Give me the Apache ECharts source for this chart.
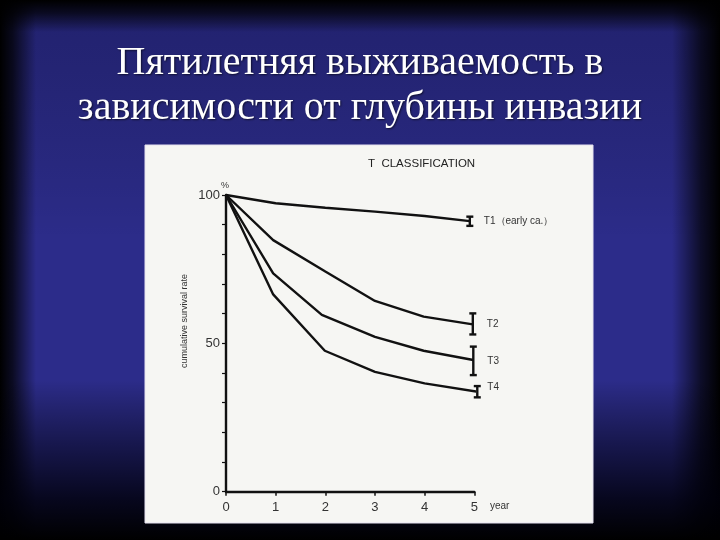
<!DOCTYPE html>
<html>
<head>
<meta charset="utf-8">
<script src="https://cdn.jsdelivr.net/npm/echarts@6/dist/echarts.min.js"></script>
<style>html,body{margin:0;padding:0;background:#000;}#c{width:720px;height:540px;}</style>
</head>
<body>
<div id="c"></div>
<script>
// ---- data ----
const titleLines = ['Пятилетняя выживаемость в', 'зависимости от глубины инвазии'];
const chartHeading = 'T  CLASSIFICATION';
const yAxisName = 'cumulative survival rate';
const xAxisName = 'year';
const yUnit = '%';
const yTickLabels = [0, 50, 100];
const xTickLabels = [0, 1, 2, 3, 4, 5];

const seriesNames = ['T1（early ca.）', 'T2', 'T3', 'T4'];
const t1X = [0, 1, 2, 3, 4, 4.91];
const t1Y = [100, 97.2, 95.7, 94.4, 92.9, 91.2];
const t2X = [0, 0.95, 2, 3, 3.98, 4.97];
const t2Y = [100, 84.8, 74.2, 64.3, 59.0, 56.4];
const t3X = [0, 0.95, 1.93, 3, 3.98, 4.98];
const t3Y = [100, 73.6, 59.6, 52.2, 47.5, 44.4];
const t4X = [0, 0.95, 1.99, 3, 4, 5.06];
const t4Y = [100, 66.5, 47.5, 40.4, 36.5, 33.7];
// error bars at 5 years: [x, low, high]
const errT1 = [4.91, 89.6, 92.7];
const errT2 = [4.97, 53.0, 60.1];
const errT3 = [4.98, 39.3, 48.9];
const errT4 = [5.06, 31.8, 35.6];

// ---- build ----
const xs = [t1X, t2X, t3X, t4X];
const ys = [t1Y, t2Y, t3Y, t4Y];
const errs = [errT1, errT2, errT3, errT4];
const labelOffsets = [[14, 0], [14, 0], [14, 0], [10, -4]];

const ink = '#111';
const sans = '"Liberation Sans", Arial, sans-serif';

const lineSeries = xs.map((xArr, i) => ({
  type: 'line',
  name: seriesNames[i],
  data: xArr.map((x, j) => [x, ys[i][j]]),
  symbol: 'none',
  clip: false,
  lineStyle: { color: ink, width: 2.4 },
  z: 3
}));

const errSeries = {
  type: 'custom',
  clip: false,
  z: 4,
  data: errs.map((e, i) => [e[0], e[1], e[2], i]),
  renderItem: function (params, api) {
    const x = api.value(0), lo = api.value(1), hi = api.value(2), idx = api.value(3);
    const pLo = api.coord([x, lo]);
    const pHi = api.coord([x, hi]);
    const mid = api.coord([x, (lo + hi) / 2]);
    const w = 3.5;
    const st = { stroke: ink, lineWidth: 2.4 };
    const off = labelOffsets[idx];
    return {
      type: 'group',
      children: [
        { type: 'line', shape: { x1: pLo[0], y1: pLo[1], x2: pHi[0], y2: pHi[1] }, style: st },
        { type: 'line', shape: { x1: pLo[0] - w, y1: pLo[1], x2: pLo[0] + w, y2: pLo[1] }, style: st },
        { type: 'line', shape: { x1: pHi[0] - w, y1: pHi[1], x2: pHi[0] + w, y2: pHi[1] }, style: st },
        { type: 'text', x: mid[0] + off[0], y: mid[1] + off[1],
          style: { text: seriesNames[idx], fill: '#333', font: '10px ' + sans, textVerticalAlign: 'middle', textAlign: 'left' } }
      ]
    };
  }
};

const bg = [
  { type: 'rect', z: -30, shape: { x: 0, y: 0, width: 720, height: 540 }, style: { fill: '#2c2c8a' } },
  { type: 'rect', z: -29, shape: { x: 0, y: 0, width: 720, height: 540 },
    style: { fill: { type: 'linear', x: 0, y: 0, x2: 0, y2: 1, colorStops: [
      { offset: 0, color: 'rgba(10,10,50,0.3)' }, { offset: 0.45, color: 'rgba(0,0,0,0)' }, { offset: 1, color: 'rgba(0,0,0,0)' }] } } },
  { type: 'rect', z: -28, shape: { x: 0, y: 0, width: 36, height: 540 },
    style: { fill: { type: 'linear', x: 0, y: 0, x2: 1, y2: 0, colorStops: [
      { offset: 0, color: 'rgba(0,0,0,1)' }, { offset: 0.35, color: 'rgba(0,0,0,0.75)' }, { offset: 1, color: 'rgba(0,0,0,0)' }] } } },
  { type: 'rect', z: -28, shape: { x: 672, y: 0, width: 48, height: 540 },
    style: { fill: { type: 'linear', x: 0, y: 0, x2: 1, y2: 0, colorStops: [
      { offset: 0, color: 'rgba(0,0,0,0)' }, { offset: 0.6, color: 'rgba(0,0,0,0.7)' }, { offset: 1, color: 'rgba(0,0,0,1)' }] } } },
  { type: 'rect', z: -28, shape: { x: 0, y: 0, width: 720, height: 32 },
    style: { fill: { type: 'linear', x: 0, y: 0, x2: 0, y2: 1, colorStops: [
      { offset: 0, color: 'rgba(0,0,0,1)' }, { offset: 0.4, color: 'rgba(0,0,0,0.7)' }, { offset: 1, color: 'rgba(0,0,0,0)' }] } } },
  { type: 'rect', z: -28, shape: { x: 0, y: 380, width: 720, height: 160 },
    style: { fill: { type: 'linear', x: 0, y: 0, x2: 0, y2: 1, colorStops: [
      { offset: 0, color: 'rgba(0,0,0,0)' }, { offset: 0.38, color: 'rgba(0,0,10,0.45)' }, { offset: 0.75, color: 'rgba(0,0,10,0.85)' }, { offset: 1, color: 'rgba(0,0,0,1)' }] } } },
  { type: 'rect', z: -20, shape: { x: 145, y: 145, width: 448, height: 378 }, style: { fill: '#f6f6f3', stroke: '#e6e2f0', lineWidth: 1 } },
  { type: 'text', z: 5, x: 368, y: 164,
    style: { text: chartHeading, fill: '#222', font: '11.5px ' + sans, textVerticalAlign: 'middle' } },
  { type: 'text', z: 5, x: 185, y: 321, rotation: Math.PI / 2,
    style: { text: yAxisName, fill: '#333', font: '9px ' + sans, textAlign: 'center', textVerticalAlign: 'middle' } },
  { type: 'text', z: 5, x: 225, y: 186,
    style: { text: yUnit, fill: '#333', font: '9px ' + sans, textAlign: 'center', textVerticalAlign: 'middle' } },
  { type: 'text', z: 5, x: 490, y: 506,
    style: { text: xAxisName, fill: '#333', font: '10px ' + sans, textVerticalAlign: 'middle' } }
];

const chart = echarts.init(document.getElementById('c'), null, { renderer: 'canvas' });
chart.setOption({
  backgroundColor: 'transparent',
  animation: false,
  title: {
    text: titleLines.join('\n'),
    left: 'center',
    top: 36,
    textStyle: { color: '#fff', fontFamily: '"Liberation Serif", "Times New Roman", serif', fontSize: 40, fontWeight: 'normal', lineHeight: 45,
      textShadowColor: 'rgba(0,0,0,0.6)', textShadowBlur: 2, textShadowOffsetX: 1, textShadowOffsetY: 1 }
  },
  graphic: { elements: bg },
  grid: { left: 226, right: 245.7, top: 195, bottom: 48.3, containLabel: false },
  xAxis: {
    type: 'value', min: 0, max: 5, interval: 1,
    axisLine: { show: true, lineStyle: { color: ink, width: 2.4 } },
    axisTick: { show: true, length: 4, lineStyle: { color: ink, width: 1.5 } },
    axisLabel: { color: '#333', fontFamily: sans, fontSize: 13, margin: 9,
      formatter: v => xTickLabels.indexOf(v) >= 0 ? String(v) : '' },
    splitLine: { show: false }
  },
  yAxis: {
    type: 'value', min: 0, max: 100, interval: 10,
    axisLine: { show: true, lineStyle: { color: ink, width: 2.4 } },
    axisTick: { show: true, length: 4, lineStyle: { color: ink, width: 1.2 } },
    axisLabel: { color: '#333', fontFamily: sans, fontSize: 13, margin: 6,
      formatter: v => yTickLabels.indexOf(v) >= 0 ? String(v) : '' },
    splitLine: { show: false }
  },
  series: lineSeries.concat([errSeries])
});
</script>
</body>
</html>
